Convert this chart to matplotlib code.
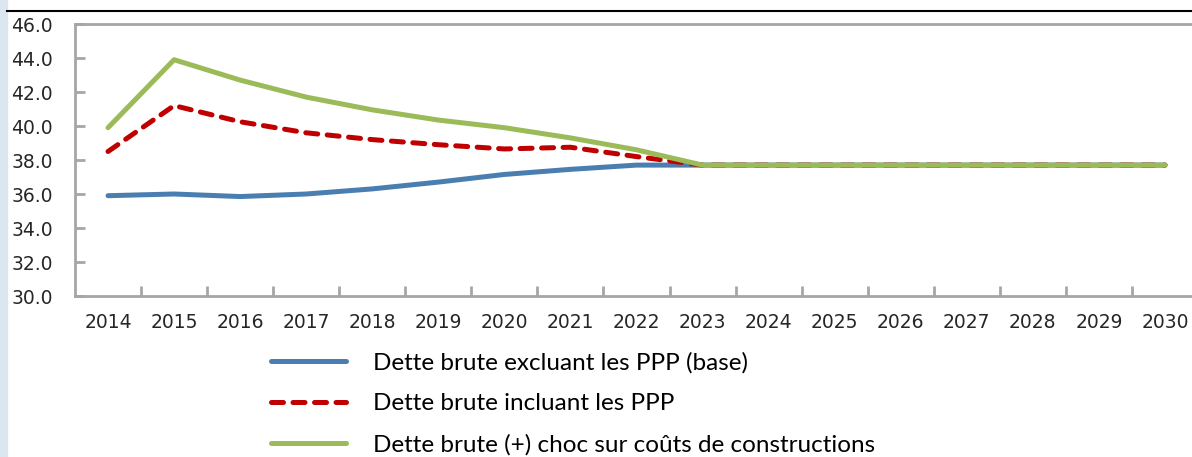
import numpy as np
import matplotlib
matplotlib.use("Agg")
import matplotlib.pyplot as plt
from matplotlib.patches import Rectangle
from matplotlib.lines import Line2D

years = [str(y) for y in range(2014, 2031)]
base = [35.9, 36.0, 35.85, 36.0, 36.3, 36.7, 37.15, 37.45, 37.7, 37.7,
        37.7, 37.7, 37.7, 37.7, 37.7, 37.7, 37.7]
ppp = [38.5, 41.2, 40.25, 39.6, 39.2, 38.9, 38.65, 38.75, 38.2, 37.7,
       37.7, 37.7, 37.7, 37.7, 37.7, 37.7, 37.7]
choc = [39.9, 43.9, 42.7, 41.7, 40.95, 40.35, 39.9, 39.3, 38.6, 37.7,
        37.7, 37.7, 37.7, 37.7, 37.7, 37.7, 37.7]
labels = ["Dette brute excluant les PPP (base)",
          "Dette brute incluant les PPP",
          "Dette brute (+) choc sur coûts de constructions"]

fig = plt.figure(figsize=(11.92, 4.57), dpi=100)
# left light strip and top black rule
fig.patches.append(Rectangle((0, 0), 7 / 1192, 1, transform=fig.transFigure,
                             color="#dce6f1", zorder=0))
fig.lines.append(Line2D([7 / 1192, 1], [1 - 11 / 457, 1 - 11 / 457],
                        transform=fig.transFigure, color="black", lw=1.5))

ax = fig.add_axes([75 / 1192, 1 - 296 / 457, 1123 / 1192, 272 / 457])
x = np.arange(len(years))
ax.plot(x, base, color="#4a7eb0", lw=3.6, solid_capstyle="round", label=labels[0])
ax.plot(x, ppp, color="#c00000", lw=3.6, linestyle=(0, (2.4, 1.9)),
        dash_capstyle="round", label=labels[1])
ax.plot(x, choc, color="#9bbb59", lw=3.6, solid_capstyle="round", label=labels[2])

ax.set_xlim(-0.5, len(years) - 0.5)
ax.set_ylim(30, 46)
ax.set_yticks(np.arange(30, 46.1, 2))
ax.set_yticklabels([f"{v:.1f}" for v in np.arange(30, 46.1, 2)])
ax.set_xticks(x + 0.5, minor=False)
ax.set_xticklabels([])
ax.set_xticks(x, minor=True)
ax.set_xticklabels(years, minor=True)
ax.tick_params(axis="x", which="major", direction="in", length=7, width=2,
               color="#a6a6a6")
ax.tick_params(axis="x", which="minor", length=0, labelsize=13.5, pad=12,
               labelcolor="#262626")
ax.tick_params(axis="y", direction="in", length=7, width=2, color="#a6a6a6",
               labelsize=13.5, pad=16, labelcolor="#262626")
for s in ["left", "bottom", "top"]:
    ax.spines[s].set_color("#a6a6a6")
    ax.spines[s].set_linewidth(2)
ax.spines["right"].set_visible(False)

fig.legend(loc="upper left", bbox_to_anchor=(249 / 1192, 1 - 330 / 457),
           frameon=False, prop={"family": "Lato", "size": 17.5},
           handlelength=3.1, handletextpad=1.1, labelspacing=0.82)

fig.savefig("out.png", dpi=100)
